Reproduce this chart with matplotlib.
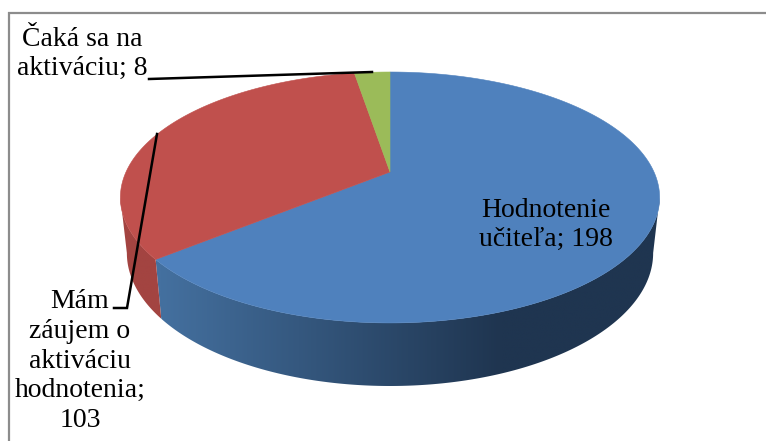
import numpy as np
import matplotlib
matplotlib.use("Agg")
import matplotlib.pyplot as plt
from matplotlib.patches import Polygon
from matplotlib.colors import to_rgb

labels = ["Hodnotenie\nučiteľa; 198", "Čaká sa na\naktiváciu; 8", "Mám\nzáujem o\naktiváciu\nhodnotenia;\n103"]
categories = ["Hodnotenie učiteľa", "Mám záujem o aktiváciu hodnotenia", "Čaká sa na aktiváciu"]
values = [198, 103, 8]
top_colors = ["#4f81bd", "#c0504d", "#9bbb59"]
wall_light = ["#44709f", "#a34441", "#84a04b"]
wall_dark = ["#1f3550", "#8f3a38", "#5f7435"]

W, H = 766, 441
fig = plt.figure(figsize=(W / 100, H / 100), dpi=100)
ax = fig.add_axes([0, 0, 1, 1])
ax.set_xlim(0, W)
ax.set_ylim(H, 0)
ax.axis("off")
plt.rcParams["font.family"] = ["Liberation Serif", "DejaVu Serif"]

CX, CY, B, A, K, DEPTH, TAPER = 390.0, 172.0, 264.0, 120.3, 0.203, 54.0, 0.976


def proj(t):
    X, Y = np.sin(t), np.cos(t)
    w = 1 + K * Y
    return CX + B * X / w, CY - A * Y / w


def proj_low(t):
    x, y = proj(t)
    return CX + (x - CX) * TAPER, y + DEPTH + 0.06 * (y - CY)


fracs = np.cumsum([0] + values) / sum(values) * 2 * np.pi
t_right = np.arccos(-K)            # widest point of the rim on the right
t_left = 2 * np.pi - t_right       # widest point of the rim on the left

# outer walls: horizontal gradient clipped to the visible rim of each slice
for i in range(3):
    a0 = max(fracs[i], t_right)
    a1 = min(fracs[i + 1], t_left)
    if a1 <= a0:
        continue
    ts = np.linspace(a0, a1, 300)
    xt, yt = proj(ts)
    xb, yb = proj_low(ts)
    poly = Polygon(np.column_stack([np.r_[xt, xb[::-1]], np.r_[yt, yb[::-1]]]),
                   closed=True, facecolor="none", edgecolor="none", transform=ax.transData)
    ax.add_patch(poly)
    x_min, x_max = min(xt.min(), xb.min()), max(xt.max(), xb.max())
    f = np.clip((np.linspace(x_min, x_max, 256) - 160) / 340, 0, 1)
    c0, c1 = np.array(to_rgb(wall_light[i])), np.array(to_rgb(wall_dark[i]))
    img = (1 - f)[None, :, None] * c0 + f[None, :, None] * c1
    im = ax.imshow(img, extent=[x_min, x_max, max(yt.max(), yb.max()), min(yt.min(), yb.min())],
                   aspect="auto", zorder=2, interpolation="bilinear")
    im.set_clip_path(poly)
ax.set_xlim(0, W)
ax.set_ylim(H, 0)

# top faces
for i in range(3):
    ts = np.linspace(fracs[i], fracs[i + 1], 300)
    xs, ys = proj(ts)
    pts = np.column_stack([np.r_[CX, xs], np.r_[CY, ys]])
    ax.add_patch(Polygon(pts, closed=True, facecolor=top_colors[i],
                         edgecolor=top_colors[i], lw=0.4, zorder=3))

# frame: only the top and left edges are visible
line = dict(color="#8c8c8c", lw=1.6, zorder=1, solid_capstyle="butt")
ax.plot([8.5, 8.5], [12, H], **line)
ax.plot([8, W], [12.5, 12.5], **line)

# leader lines
leader = dict(color="black", lw=1.8, zorder=5, solid_joinstyle="miter")
ax.plot([149, 372], [79, 72], **leader)
ax.plot([157, 127, 114], [134, 308, 308], **leader)

# labels
txt = dict(color="black", fontsize=20, ha="center", va="center",
           linespacing=1.25, zorder=6, family=["Liberation Serif", "DejaVu Serif"])
ax.text(546, 225, labels[0], **txt)
ax.text(82, 54, labels[1], **txt)
ax.text(80, 361, labels[2], **txt)

fig.savefig("out.png", dpi=100)
